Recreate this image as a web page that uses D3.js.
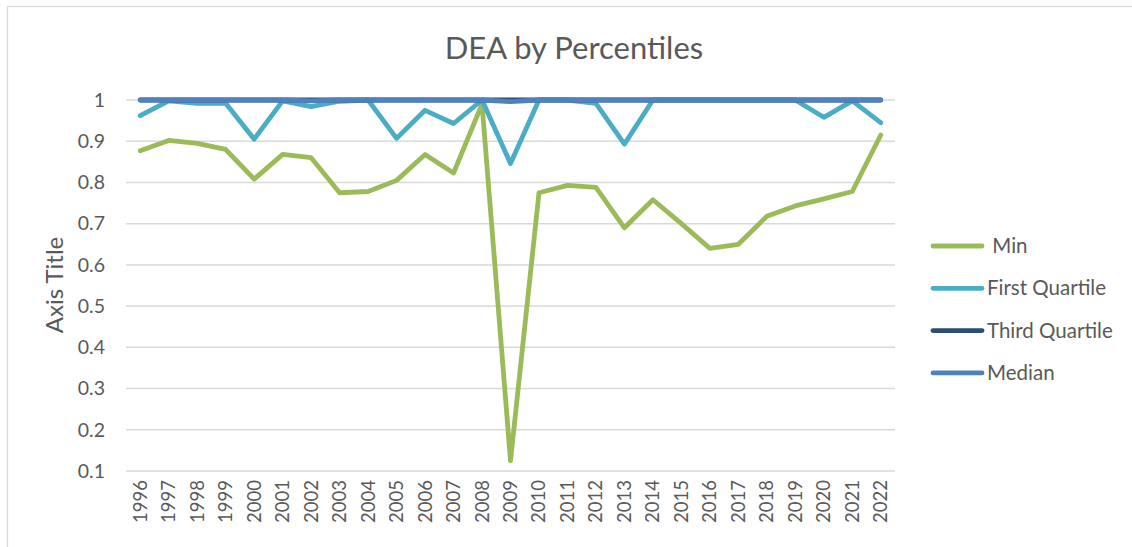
<!DOCTYPE html>
<html>
<head>
<meta charset="utf-8">
<script src="https://cdn.jsdelivr.net/npm/d3@7"></script>
<style>
  body { margin: 0; background: #fff; }
  text { font-family: Lato, "Open Sans", sans-serif; fill: #595959; }
</style>
</head>
<body>
<div id="chart"></div>
<script>
// data
const years = ["1996","1997","1998","1999","2000","2001","2002","2003","2004","2005","2006","2007","2008",
               "2009","2010","2011","2012","2013","2014","2015","2016","2017","2018","2019","2020","2021","2022"];
const minVals = [0.877,0.902,0.895,0.880,0.808,0.868,0.860,0.775,0.778,0.805,0.868,0.823,0.990,
                 0.125,0.775,0.793,0.788,0.690,0.758,0.700,0.640,0.650,0.718,0.743,0.760,0.778,0.915];
const firstQuartile = [0.962,0.998,0.992,0.992,0.905,0.998,0.984,0.997,1.000,0.907,0.975,0.943,1.000,
                       0.846,1.000,1.000,0.992,0.893,1.000,1.000,1.000,1.000,1.000,1.000,0.958,0.998,0.945];
const thirdQuartile = [1,1,1,1,1,1,1,1,1,1,1,1,1,1,1,1,1,1,1,1,1,1,1,1,1,1,1];
const median = [1,1,1,1,1,1,0.998,1,1,1,1,1,1,0.996,1,1,1,1,1,1,1,0.999,1,1,1,1,1];
const yTicks = [0.1,0.2,0.3,0.4,0.5,0.6,0.7,0.8,0.9,1];

const series = [
  {name: "Min", values: minVals, color: "#9bbb59", label: " Min"},
  {name: "First Quartile", values: firstQuartile, color: "#4bacc6", label: "First Quartile"},
  {name: "Third Quartile", values: thirdQuartile, color: "#2c4d75", label: "Third Quartile"},
  {name: "Median", values: median, color: "#4f81bd", label: "Median"}
];

const W = 1132, H = 547;
let margin = {top: 100, left: 126, right: W - 895, bottom: H - 471};
let width = W - margin.left - margin.right,
    height = H - margin.top - margin.bottom;

let svg = d3.select("#chart").append("svg")
    .attr("width", W).attr("height", H);

// chart frame
svg.append("rect")
    .attr("x", 7.5).attr("y", 6.5)
    .attr("width", W + 20).attr("height", H + 20)
    .attr("fill", "none").attr("stroke", "#d9d9d9").attr("stroke-width", 1.3);

let g = svg.append("g")
    .attr("transform", "translate(" + margin.left + "," + margin.top + ")");

let x = d3.scaleBand().domain(years).range([0, width]);
let y = d3.scaleLinear().domain([0.1, 1]).range([height, 0]);

// gridlines
g.selectAll(".grid")
    .data(yTicks)
    .enter().append("line")
    .attr("x1", 0).attr("x2", width)
    .attr("y1", d => y(d)).attr("y2", d => y(d))
    .attr("stroke", "#d9d9d9").attr("stroke-width", 1.5);

// y axis labels
let yAxis = g.append("g")
    .call(d3.axisLeft(y).tickValues(yTicks).tickSize(0).tickPadding(21).tickFormat(d3.format("~g")));
yAxis.select(".domain").remove();
yAxis.selectAll("text")
    .style("font-size", "19.5px").style("font-family", "Lato, sans-serif").attr("fill", "#595959");

// x axis labels
let xAxis = g.append("g")
    .attr("transform", "translate(0," + height + ")")
    .call(d3.axisBottom(x).tickSize(0));
xAxis.select(".domain").remove();
xAxis.selectAll("text")
    .style("font-size", "18.5px").style("font-family", "Lato, sans-serif").attr("fill", "#595959")
    .attr("transform", "rotate(-90)")
    .attr("x", -9).attr("y", 0).attr("dy", "0.35em")
    .style("text-anchor", "end");

// lines
let line = d3.line()
    .x((d, i) => x(years[i]) + x.bandwidth() / 2)
    .y(d => y(d));

series.forEach(function(s) {
  g.append("path")
      .datum(s.values)
      .attr("d", line)
      .attr("fill", "none")
      .attr("stroke", s.color)
      .attr("stroke-width", 4.8)
      .attr("stroke-linejoin", "round")
      .attr("stroke-linecap", "round");
});

// title
svg.append("text")
    .attr("x", 574).attr("y", 59)
    .attr("text-anchor", "middle")
    .style("font-size", "31px")
    .text("DEA by Percentiles");

// axis title
svg.append("text")
    .attr("transform", "translate(63,285) rotate(-90)")
    .attr("text-anchor", "middle")
    .style("font-size", "24px")
    .text("Axis Title");

// legend
let legend = svg.append("g");
series.forEach(function(s, i) {
  let ly = 246 + i * 42.3;
  legend.append("line")
      .attr("x1", 933).attr("x2", 982)
      .attr("y1", ly).attr("y2", ly)
      .attr("stroke", s.color).attr("stroke-width", 4.8).attr("stroke-linecap", "round");
  legend.append("text")
      .attr("x", 987).attr("y", ly).attr("dy", "0.35em")
      .style("font-size", "20.5px")
      .attr("xml:space", "preserve")
      .text(s.label);
});
</script>
</body>
</html>
